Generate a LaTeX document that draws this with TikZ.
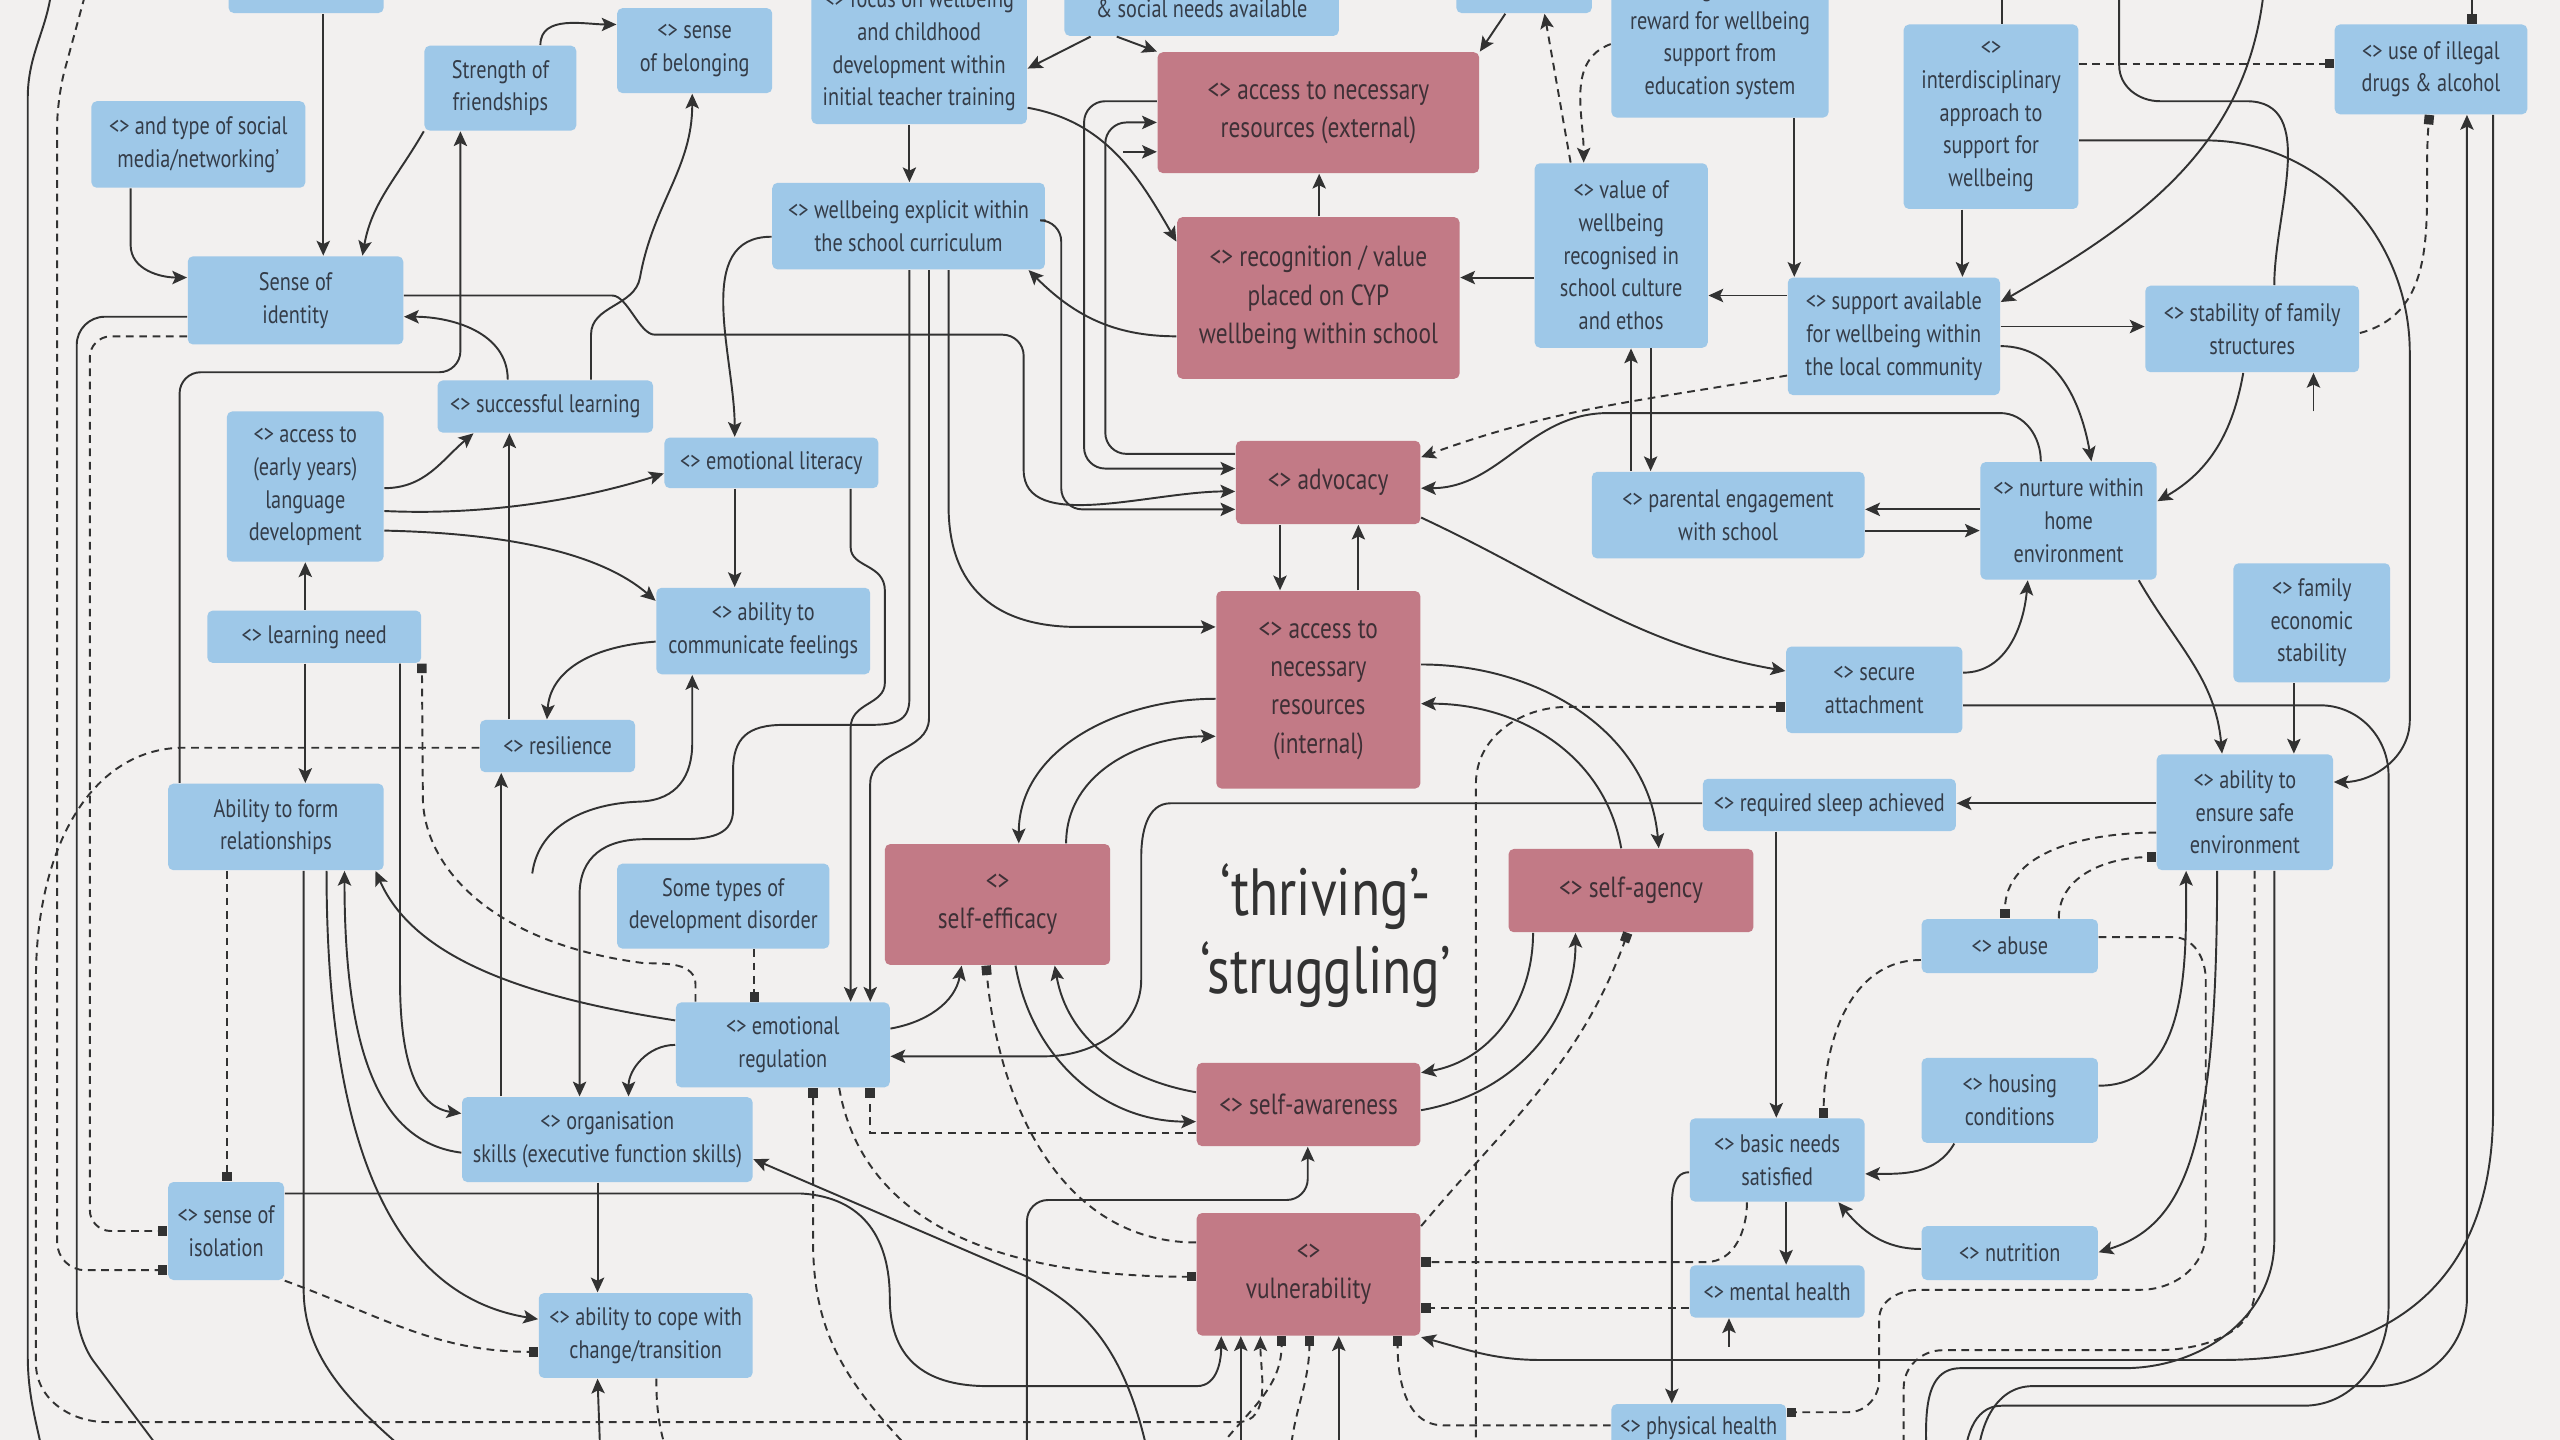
\documentclass[tikz,border=0pt]{standalone}
\usepackage{fontspec}
\setmainfont[FakeStretch=0.8]{PT Sans}
\usetikzlibrary{arrows.meta}
\definecolor{bg}{RGB}{242,240,239}
\definecolor{bbox}{RGB}{158,200,232}
\definecolor{rbox}{RGB}{194,122,134}
\definecolor{tx}{RGB}{52,60,72}
\definecolor{rtx}{RGB}{62,48,54}
\definecolor{lc}{RGB}{50,50,50}
\newcommand\mybox[7]{\node[#7, minimum width={((#4)-(#2))*0.01633cm}, minimum height={((#5)-(#3))*0.01633cm}] (#1) at ({((#2)+(#4))/2},{((#3)+(#5))/2}) {#6};}
\tikzset{
 bb/.style={fill=bbox, rounded corners=1.5pt, inner sep=0pt, align=center, text=tx, font=\fontsize{7.2}{9.3}\selectfont},
 rb/.style={fill=rbox, rounded corners=1.5pt, inner sep=0pt, align=center, text=rtx, font=\fontsize{8.3}{10.9}\selectfont},
 ln/.style={draw=lc, line width=0.55pt},
 ar/.style={ln, -{Stealth[length=4.2pt,width=3.8pt,inset=0.9pt]}},
 dar/.style={ar, dash pattern=on 2.2pt off 1.6pt},
 dl/.style={ln, dash pattern=on 2.2pt off 1.6pt},
 sq/.style={ln, dash pattern=on 2.2pt off 1.6pt, -{Square[length=2.7pt,width=2.7pt]}},
 sqs/.style={ln, dash pattern=on 2.2pt off 1.6pt, {Square[length=2.7pt,width=2.7pt]}-}
}
\begin{document}
\begin{tikzpicture}[x=0.01633cm,y=-0.01633cm]
\fill[bg] (0,0) rectangle (1568,882);
\useasboundingbox (0,0) rectangle (1568,882);
% blue nodes
\mybox{top1}{140}{-30}{235}{8}{}{bb}
\mybox{strf}{260}{28}{353}{80}{Strength of\\friendships}{bb}
\mybox{belong}{378}{5}{473}{57}{<> sense\\of belonging}{bb}
\mybox{focus}{497}{-14}{629}{76}{<> focus on wellbeing\\and childhood\\development within\\initial teacher training}{bb}
\mybox{social}{652}{-12}{820}{22}{\& social needs available}{bb}
\mybox{top2}{892}{-30}{975}{8}{}{bb}
\mybox{recog}{987}{-24}{1120}{72}{<> recognition and\\reward for wellbeing\\support from\\education system}{bb}
\mybox{interd}{1166}{15}{1273}{128}{<>\\interdisciplinary\\approach to\\support for\\wellbeing}{bb}
\mybox{drugs}{1430}{15}{1548}{70}{<> use of illegal\\drugs \& alcohol}{bb}
\mybox{media}{56}{62}{187}{115}{<> and type of social\\media/networking'}{bb}
\mybox{sid}{115}{157}{247}{211}{Sense of\\identity}{bb}
\mybox{curric}{473}{112}{640}{165}{<> wellbeing explicit within\\the school curriculum}{bb}
\mybox{valuew}{940}{100}{1046}{213}{<> value of\\wellbeing\\recognised in\\school culture\\and ethos}{bb}
\mybox{supp}{1095}{170}{1225}{242}{<> support available\\for wellbeing within\\the local community}{bb}
\mybox{stab}{1314}{175}{1445}{228}{<> stability of family\\structures}{bb}
\mybox{succ}{268}{233}{400}{265}{<> successful learning}{bb}
\mybox{lang}{139}{252}{235}{344}{<> access to\\(early years)\\language\\development}{bb}
\mybox{emlit}{407}{268}{538}{299}{<> emotional literacy}{bb}
\mybox{parent}{975}{289}{1142}{342}{<> parental engagement\\with school}{bb}
\mybox{nurture}{1213}{283}{1321}{355}{<> nurture within\\home\\environment}{bb}
\mybox{lneed}{127}{374}{258}{406}{<> learning need}{bb}
\mybox{comm}{402}{360}{533}{413}{<> ability to\\communicate feelings}{bb}
\mybox{econ}{1368}{345}{1464}{418}{<> family\\economic\\stability}{bb}
\mybox{resil}{294}{441}{389}{473}{<> resilience}{bb}
\mybox{secure}{1094}{396}{1202}{449}{<> secure\\attachment}{bb}
\mybox{afr}{103}{480}{235}{533}{Ability to form\\relationships}{bb}
\mybox{sleep}{1043}{477}{1198}{509}{<> required sleep achieved}{bb}
\mybox{safe}{1321}{462}{1429}{533}{<> ability to\\ensure safe\\environment}{bb}
\mybox{some}{378}{529}{508}{581}{Some types of\\development disorder}{bb}
\mybox{abuse}{1177}{563}{1285}{596}{<> abuse}{bb}
\mybox{emreg}{414}{614}{545}{666}{<> emotional\\regulation}{bb}
\mybox{org}{283}{672}{461}{724}{<> organisation\\skills (executive function skills)}{bb}
\mybox{housing}{1177}{648}{1285}{700}{<> housing\\conditions}{bb}
\mybox{basic}{1035}{685}{1142}{736}{<> basic needs\\satisfied}{bb}
\mybox{isol}{103}{724}{174}{784}{<> sense of\\isolation}{bb}
\mybox{nutr}{1177}{751}{1285}{784}{<> nutrition}{bb}
\mybox{mental}{1035}{775}{1142}{807}{<> mental health}{bb}
\mybox{cope}{330}{792}{461}{844}{<> ability to cope with\\change/transition}{bb}
\mybox{phys}{987}{860}{1094}{890}{<> physical health}{bb}
% red nodes
\mybox{ext}{709}{32}{906}{106}{<> access to necessary\\resources (external)}{rb}
\mybox{recv}{721}{133}{894}{232}{<> recognition / value\\placed on CYP\\wellbeing within school}{rb}
\mybox{adv}{757}{270}{870}{321}{<> advocacy}{rb}
\mybox{intl}{745}{362}{870}{483}{<> access to\\necessary\\resources\\(internal)}{rb}
\mybox{seff}{542}{517}{680}{591}{<>\\self-efficacy}{rb}
\mybox{sag}{924}{520}{1074}{571}{<> self-agency}{rb}
\mybox{saw}{733}{651}{870}{702}{<> self-awareness}{rb}
\mybox{vul}{733}{743}{870}{818}{<>\\vulnerability}{rb}
\node[font=\fontsize{19}{22}\selectfont, text=lc, align=center] (title) at (812,573) {‘thriving’-\\‘struggling’};
% ---- connectors: top-left
\draw[ar] (top1.south -| 198,0) -- (sid.north -| 198,0);
\draw[ar] (strf.south west) to[out=-120,in=80] (sid.north -| 222,0);
\draw[ar] (strf.north -| 331,0) to[out=90,in=180] (belong.west |- 0,15);
\draw[ar] (media.south -| 80,0) -- (80,150) to[out=-90,in=180] (sid.west |- 0,170);
\draw[ar, rounded corners=6pt] (afr.north -| 110,0) -- (110,228) -- (282,228) -- (strf.south -| 282,0);
\draw[ar] (succ.north -| 311,0) to[out=90,in=0] (sid.east |- 0,194);
\draw[ar] (succ.north -| 362,0) -- (362,205) to[out=90,in=-100] (392,170) to[out=80,in=-90] (belong.south -| 424,0);
\draw[ar, rounded corners=6pt] (sid.east |- 0,181) -- (362,181) to[out=0,in=180] (414,205) -- (627,205) -- (627,275) to[out=-90,in=180] (adv.west |- 0,301);
% adv left side
\draw[ar, rounded corners=6pt] (ext.west |- 0,62) -- (664,62) -- (664,287) -- (adv.west |- 0,287);
\draw[ar, rounded corners=6pt] (adv.west |- 0,278) -- (677,278) -- (677,75) -- (ext.west |- 0,75);
\draw[ar, rounded corners=6pt] (curric.east |- 0,135) -- (650,135) -- (650,312) -- (adv.west |- 0,312);
\draw[ar] (688,93) -- (ext.west |- 0,93);
% top middle
\draw[ar] (social.south -| 668,0) -- (focus.east |- 0,42);
\draw[ar] (social.south -| 684,0) -- (ext.north west);
\draw[ar] (focus.east |- 0,66) to[out=-10,in=120] (recv.west |- 0,148);
\draw[ar] (focus.south -| 557,0) -- (curric.north -| 557,0);
\draw[ar] (curric.west |- 0,145) to[out=180,in=90] (emlit.north -| 450,0);
\draw[ar] (emlit.south -| 450,0) -- (comm.north -| 450,0);
\draw[ar] (recv.west |- 0,206) to[out=180,in=-45] (curric.south -| 630,0);
\draw[ar] (recv.north -| 808,0) -- (ext.south -| 808,0);
\draw[ar] (valuew.west |- 0,170) -- (recv.east |- 0,170);
\draw[ar] (supp.west |- 0,181) -- (valuew.east |- 0,181);
\draw[ar] (recog.south -| 1099,0) -- (supp.north -| 1099,0);
\draw[ar] (interd.south -| 1202,0) -- (supp.north -| 1202,0);
\draw[dar] (valuew.north -| 962,0) to[out=100,in=-80] (top2.south -| 946,0);
\draw[dar] (recog.west |- 0,27) to[out=200,in=90] (valuew.north -| 970,0);
\draw[ar] (top2.south -| 922,0) -- (ext.north east);
\draw[ar] (parent.north -| 999,0) -- (valuew.south -| 999,0);
\draw[ar] (valuew.south -| 1011,0) -- (parent.north -| 1011,0);
\draw[dar] (supp.west |- 0,230) to[out=190,in=20] (adv.east |- 0,280);
\draw[ar] (nurture.north -| 1250,0) to[out=90,in=0] (1225,253) -- (985,253) to[out=180,in=0] (adv.east |- 0,299);
\draw[ar] (adv.east |- 0,317) to[out=-25,in=170] (secure.west |- 0,411);
\draw[ar] (adv.south -| 784,0) -- (intl.north -| 784,0);
\draw[ar] (intl.north -| 832,0) -- (adv.south -| 832,0);
\draw[ar] (intl.east |- 0,407) to[out=0,in=95] (sag.north -| 1016,0);
\draw[ar] (sag.north -| 993,0) to[out=100,in=0] (intl.east |- 0,431);
\draw[sqs] (secure.west |- 0,433) -- (960,433) to[out=180,in=90] (904,480) -- (904,900);
\draw[ar] (sleep.west |- 0,492) -- (717,492) to[out=180,in=90] (699,525) -- (699,600) to[out=-90,in=0] (640,647) -- (emreg.east |- 0,647);
\draw[ar] (safe.west |- 0,492) -- (sleep.east |- 0,492);
\draw[ar] (nurture.south -| 1310,0) to[out=-60,in=95] (safe.north -| 1361,0);
\draw[ar] (econ.south -| 1405,0) -- (safe.north -| 1405,0);
\draw[ln] (secure.east |- 0,432) -- (1421,432) to[out=0,in=90] (1463,475) -- (1463,800) to[out=-90,in=0] (1411,861) -- (1226,861) to[out=180,in=90] (1203,900);
\draw[ar] (interd.east |- 0,86) -- (1351,86) to[out=0,in=90] (1476,216) -- (1476,441) to[out=-90,in=0] (safe.east |- 0,479);
\draw[sq] (interd.east |- 0,39) -- (drugs.west |- 0,39);
\draw[ln] (1298,-10) -- (1298,40) to[out=-90,in=180] (1323,62) -- (1376,62) to[out=0,in=90] (stab.north -| 1393,0);
\draw[ar] (1387,-10) to[out=-95,in=30] (supp.east |- 0,185);
\draw[ar] (supp.east |- 0,200) -- (stab.west |- 0,200);
\draw[ar] (supp.east |- 0,212) to[out=0,in=100] (nurture.north -| 1281,0);
\draw[ar] (stab.south -| 1374,0) to[out=-100,in=30] (nurture.east |- 0,307);
\draw[ar] (1417,252) -- (stab.south -| 1417,0);
\draw[ln,-{Square[length=2.7pt,width=2.7pt]}] (1514,-10) -- (drugs.north -| 1514,0);
\draw[sq] (stab.east |- 0,204) to[out=15,in=-95] (drugs.south -| 1488,0);
\draw[ar] (1211,900) to[out=90,in=180] (1245,849) -- (1456,849) to[out=0,in=-90] (1511,795) -- (drugs.south -| 1511,0);
\draw[ar] (drugs.south -| 1527,0) -- (1527,680) .. controls (1527,790) and (1460,833) .. (1360,833) -- (944,833) to[out=180,in=-15] (vul.east |- 0,819);
\draw[ln] (1226,-10) -- (interd.north -| 1226,0);
% right-bottom
\draw[sq] (mental.west |- 0,801) -- (vul.east |- 0,801);
\draw[sq] (basic.south -| 1070,0) to[out=-90,in=0] (1045,773) -- (vul.east |- 0,773);
\draw[ar] (basic.south -| 1094,0) -- (mental.north -| 1094,0);
\draw[ar] (1059,825) -- (mental.south -| 1059,0);
\draw[ar] (basic.west |- 0,718) to[out=180,in=90] (1024,745) -- (phys.north -| 1024,0);
\draw[sq] (phys.west |- 0,873) -- (884,873) to[out=180,in=-90] (vul.south -| 856,0);
\draw[sq] (abuse.east |- 0,574) -- (1331,574) to[out=0,in=90] (1351,600) -- (1351,755) to[out=-90,in=0] (1311,790) -- (1176,790) to[out=180,in=90] (1151,808) -- (1151,845) to[out=-90,in=0] (1132,865) -- (phys.east |- 0,865);
\draw[dl] (safe.south -| 1381,0) -- (1381,790) to[out=-90,in=0] (1320,827) -- (1190,827) to[out=180,in=90] (1166,850) -- (1166,900);
\draw[ln] (safe.south -| 1393,0) -- (1393,760) to[out=-90,in=0] (1301,838) -- (1201,838) to[out=180,in=90] (1180,900);
\draw[ar] (housing.east |- 0,665) to[out=0,in=-90] (safe.south -| 1339,0);
\draw[ar] (safe.south -| 1358,0) .. controls (1358,700) and (1340,750) .. (nutr.east |- 0,767);
\draw[sq] (safe.west |- 0,510) to[out=180,in=90] (abuse.north -| 1228,0);
\draw[sq] (abuse.north -| 1261,0) to[out=90,in=180] (safe.west |- 0,525);
\draw[sq] (abuse.west |- 0,588) to[out=180,in=90] (basic.north -| 1117,0);
\draw[ar] (sleep.south -| 1088,0) -- (basic.north -| 1088,0);
\draw[ar] (housing.south -| 1197,0) to[out=-120,in=0] (basic.east |- 0,719);
\draw[ar] (nutr.west |- 0,765) to[out=180,in=-50] (basic.south -| 1126,0);
\draw[ar] (nurture.west |- 0,312) -- (parent.east |- 0,312);
\draw[ar] (parent.east |- 0,325) -- (nurture.west |- 0,325);
\draw[ar] (secure.east |- 0,412) to[out=0,in=-95] (nurture.south -| 1242,0);
% centre
\draw[ar] (saw.west |- 0,669) to[out=170,in=-80] (seff.south -| 646,0);
\draw[ar] (seff.south -| 622,0) to[out=-80,in=180] (saw.west |- 0,687);
\draw[ar] (emreg.east |- 0,630) to[out=10,in=-100] (seff.south -| 589,0);
\draw[sq] (vul.west |- 0,761) to[out=180,in=-85] (seff.south -| 604,0);
\draw[sq] (569,900) .. controls (520,850) and (498,820) .. (498,760) -- (emreg.south -| 498,0);
\draw[sq] (saw.west |- 0,694) -- (533,694) -- (emreg.south -| 533,0);
\draw[sq] (emreg.south -| 514,0) to[out=-80,in=180] (vul.west |- 0,782);
\draw[ar] (705,900) .. controls (690,820) and (660,800) .. (629,782) -- (org.east |- 0,710);
\draw[ar, rounded corners=6pt] (629,900) -- (629,735) -- (801,735) -- (saw.south -| 801,0);
\draw[ar] (isol.east |- 0,731) -- (490,731) .. controls (530,733) and (545,760) .. (545,795) .. controls (545,835) and (570,849) .. (605,849) -- (733,849) to[out=0,in=-90] (vul.south -| 748,0);
\draw[ar] (760,900) -- (vul.south -| 760,0);
\draw[dar] (resil.west |- 0,458) -- (110,458) .. controls (55,460) and (22,520) .. (22,600) -- (22,835) to[out=-90,in=180] (65,871) -- (758,871) to[out=0,in=-90] (vul.south -| 772,0);
\draw[sq] (738,900) to[out=60,in=-90] (vul.south -| 785,0);
\draw[sq] (790,900) to[out=90,in=-90] (vul.south -| 802,0);
\draw[ar] (820,900) -- (vul.south -| 820,0);
\draw[sq] (vul.east |- 0,751) to[out=50,in=-110] (sag.south -| 997,0);
\draw[ar] (saw.east |- 0,680) to[out=10,in=-90] (sag.south -| 965,0);
\draw[ar] (sag.south -| 939,0) to[out=-90,in=10] (saw.east |- 0,657);
\draw[ar] (intl.west |- 0,428) to[out=180,in=90] (seff.north -| 624,0);
\draw[ar] (seff.north -| 653,0) to[out=90,in=180] (intl.west |- 0,451);
\draw[ar] (curric.south -| 581,0) -- (581,310) .. controls (581,360) and (610,384) .. (660,384) -- (intl.west |- 0,384);
\draw[ar] (curric.south -| 569,0) -- (569,440) to[out=-90,in=90] (533,480) -- (emreg.north -| 533,0);
\draw[ar] (emlit.south -| 521,0) -- (521,335) .. controls (521,348) and (542,345) .. (542,362) -- (542,418) .. controls (542,432) and (521,430) .. (521,446) -- (emreg.north -| 521,0);
\draw[ar] (curric.south -| 557,0) -- (557,428) .. controls (557,442) and (548,444) .. (532,444) -- (480,444) .. controls (458,444) and (449,452) .. (449,472) -- (449,496) .. controls (449,510) and (438,514) .. (418,514) -- (395,514) .. controls (370,514) and (355,525) .. (355,548) -- (org.north -| 355,0);
\draw[ar] (326,535) .. controls (330,505) and (360,492) .. (392,491) .. controls (415,490) and (424,475) .. (424,455) -- (comm.south -| 424,0);
\draw[sq] (some.south -| 462,0) -- (emreg.north -| 462,0);
\draw[sq] (emreg.north -| 426,0) -- (426,603) to[out=90,in=0] (395,590) .. controls (300,578) and (259,530) .. (259,488) -- (lneed.south east);
\draw[ar] (emreg.west |- 0,625) .. controls (330,612) and (255,590) .. (afr.south -| 230,0);
\draw[ar] (emreg.west |- 0,640) to[out=180,in=90] (org.north -| 385,0);
\draw[ar] (org.west |- 0,706) .. controls (235,700) and (211,650) .. (afr.south -| 211,0);
\draw[ar] (afr.south -| 200,0) .. controls (200,720) and (250,795) .. (cope.west |- 0,808);
\draw[ar] (lneed.south -| 245,0) -- (245,600) .. controls (245,650) and (255,678) .. (org.west |- 0,682);
\draw[ln] (afr.south -| 186,0) -- (186,790) .. controls (186,835) and (220,865) .. (262,900);
\draw[sq] (afr.south -| 139,0) -- (isol.north -| 139,0);
\draw[ar] (org.north -| 307,0) -- (resil.south -| 307,0);
\draw[ar] (resil.north -| 312,0) -- (succ.south -| 312,0);
\draw[ar] (comm.west |- 0,393) .. controls (360,396) and (337,412) .. (resil.north -| 335,0);
\draw[ar] (lneed.north -| 187,0) -- (lang.south -| 187,0);
\draw[ar] (lneed.south -| 187,0) -- (afr.north -| 187,0);
\draw[ar] (lang.east |- 0,299) to[out=0,in=-140] (succ.south -| 290,0);
\draw[ar] (lang.east |- 0,313) .. controls (300,316) and (360,305) .. (emlit.west |- 0,290);
\draw[ar] (lang.east |- 0,325) .. controls (330,327) and (375,345) .. (comm.west |- 0,368);
\draw[ar] (org.south -| 366,0) -- (cope.north -| 366,0);
\draw[ar] (368,900) -- (cope.south -| 366,0);
\draw[sq] (isol.south east) to[out=-20,in=180] (cope.west |- 0,828);
\draw[dl] (cope.south -| 402,0) to[out=-90,in=110] (412,900);
\draw[sq, rounded corners=6pt] (sid.west |- 0,206) -- (55,206) -- (55,754) -- (isol.west |- 0,754);
\draw[sq, rounded corners=8pt] (54,-10) -- (35,60) -- (35,778) -- (isol.west |- 0,778);
\draw[ln, rounded corners=8pt] (sid.west |- 0,194) -- (47,194) -- (47,820) -- (107,900);
\draw[ln] (32,-10) to[out=-95,in=90] (17,60) -- (17,830) to[out=-90,in=100] (28,900);
\end{tikzpicture}
\end{document}
